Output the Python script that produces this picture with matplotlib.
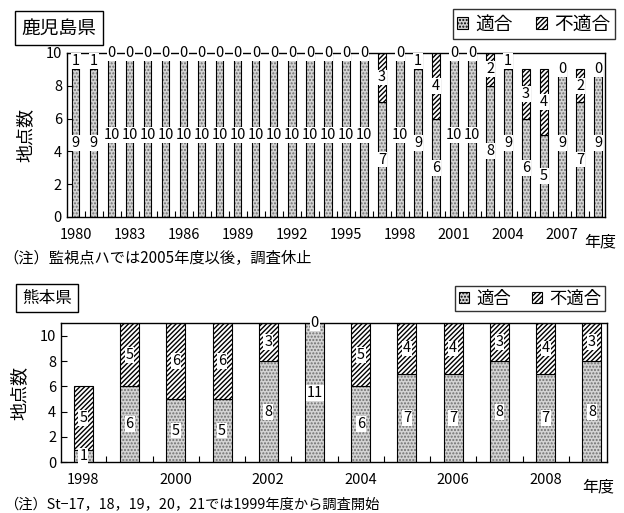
import matplotlib.pyplot as plt
from matplotlib.patches import Patch
import numpy as np

plt.rcParams['font.family'] = ['Noto Sans CJK JP', 'DejaVu Sans']
plt.rcParams['hatch.linewidth'] = 1.0

# 鹿児島県 1980-2009
kago_years = list(range(1980, 2010))
kago_ok = [9, 9, 10, 10, 10, 10, 10, 10, 10, 10, 10, 10, 10, 10, 10, 10, 10,
           7, 10, 9, 6, 10, 10, 8, 9, 6, 5, 9, 7, 9]
kago_ng = [1, 1, 0, 0, 0, 0, 0, 0, 0, 0, 0, 0, 0, 0, 0, 0, 0,
           3, 0, 1, 4, 0, 0, 2, 1, 3, 4, 0, 2, 0]
kago_ticks = list(range(1980, 2008, 3))

# 熊本県 1998-2009
kuma_years = list(range(1998, 2010))
kuma_ok = [1, 6, 5, 5, 8, 11, 6, 7, 7, 8, 7, 8]
kuma_ng = [5, 5, 6, 6, 3, 0, 5, 4, 4, 3, 4, 3]
kuma_ticks = list(range(1998, 2009, 2))

OK_FACE = '#d4d4d4'
OK_HATCH = '#707070'


def draw_panel(ax, years, ok, ng, width, fs):
    x = np.array(years)
    ok = np.array(ok)
    ng = np.array(ng)
    # 適合: 点描
    ax.bar(x, ok, width, facecolor=OK_FACE, edgecolor=OK_HATCH, hatch='.....',
           linewidth=0, zorder=2)
    ax.bar(x, ok, width, fill=False, edgecolor='black', linewidth=0.8, zorder=3)
    # 不適合: 斜線
    ax.bar(x, ng, width, bottom=ok, facecolor='white', edgecolor='black',
           hatch='///////', linewidth=0.8, zorder=3)
    box = dict(facecolor='white', edgecolor='none', pad=0.6)
    for xi, a, b in zip(x, ok, ng):
        ax.text(xi, a / 2, str(a), ha='center', va='center', fontsize=fs,
                bbox=box, zorder=5, clip_on=False)
        ax.text(xi, a + b / 2, str(b), ha='center', va='center', fontsize=fs,
                bbox=box, zorder=5, clip_on=False)
    ax.set_xticks(x + 0.5, minor=True)
    ax.tick_params(axis='x', which='major', length=0, labelsize=10.5, pad=8)
    ax.tick_params(axis='x', which='minor', direction='in', length=4, width=0.8)
    ax.tick_params(axis='y', direction='in', length=4, width=0.8, labelsize=10.5)
    for s in ax.spines.values():
        s.set_linewidth(1.0)
        s.set_zorder(4)


fig = plt.figure(figsize=(6.24, 5.13), dpi=100)

ax1 = fig.add_axes([0.107, 0.577, 0.863, 0.320])
draw_panel(ax1, kago_years, kago_ok, kago_ng, 0.4, 10.5)
ax1.set_xlim(1979.5, 2009.4)
ax1.set_ylim(0, 10)
ax1.set_yticks(range(0, 11, 2))
ax1.set_xticks(kago_ticks)
ax1.set_xticklabels([str(t) for t in kago_ticks])
ax1.set_ylabel('地点数', fontsize=13, labelpad=8)

ax2 = fig.add_axes([0.098, 0.099, 0.875, 0.271])
draw_panel(ax2, kuma_years, kuma_ok, kuma_ng, 0.41, 10.5)
ax2.set_xlim(1997.52, 2009.33)
ax2.set_ylim(0, 11)
ax2.set_yticks(range(0, 11, 2))
ax2.set_xticks(kuma_ticks)
ax2.set_xticklabels([str(t) for t in kuma_ticks])
ax2.set_ylabel('地点数', fontsize=13, labelpad=8)

title_box = dict(boxstyle='square,pad=0.35', facecolor='white', edgecolor='black',
                 linewidth=1.0)
fig.text(0.035, 0.945, '鹿児島県', fontsize=13.5, va='center', ha='left', bbox=title_box)
fig.text(0.035, 0.419, '熊本県', fontsize=12, va='center', ha='left', bbox=title_box)

fig.text(0.962, 0.528, '年度', fontsize=11.5, ha='center', va='center')
fig.text(0.958, 0.051, '年度', fontsize=11.5, ha='center', va='center')

fig.text(0.006, 0.497, '（注）監視点ハでは2005年度以後，調査休止', fontsize=11,
         ha='left', va='center')
fig.text(0.006, 0.016, '（注）St−17，18，19，20，21では1999年度から調査開始', fontsize=10.3,
         ha='left', va='center')

handles = [Patch(facecolor=OK_FACE, edgecolor='black', hatch='.....', linewidth=0.8),
           Patch(facecolor='white', edgecolor='black', hatch='///////', linewidth=0.8)]
for ypos, xr, fsz in ((0.953, 0.985, 13.5), (0.418, 0.970, 12.5)):
    leg = fig.legend(handles, ['適合', '不適合'], loc='center right',
                     bbox_to_anchor=(xr, ypos), ncol=2,
                     fontsize=fsz, frameon=True, fancybox=False, edgecolor='black',
                     handlelength=0.6, handleheight=0.6, handletextpad=0.4,
                     columnspacing=1.2, borderpad=0.22, borderaxespad=0)
    leg.get_frame().set_linewidth(1.0)

fig.savefig('out.png', dpi=100)
